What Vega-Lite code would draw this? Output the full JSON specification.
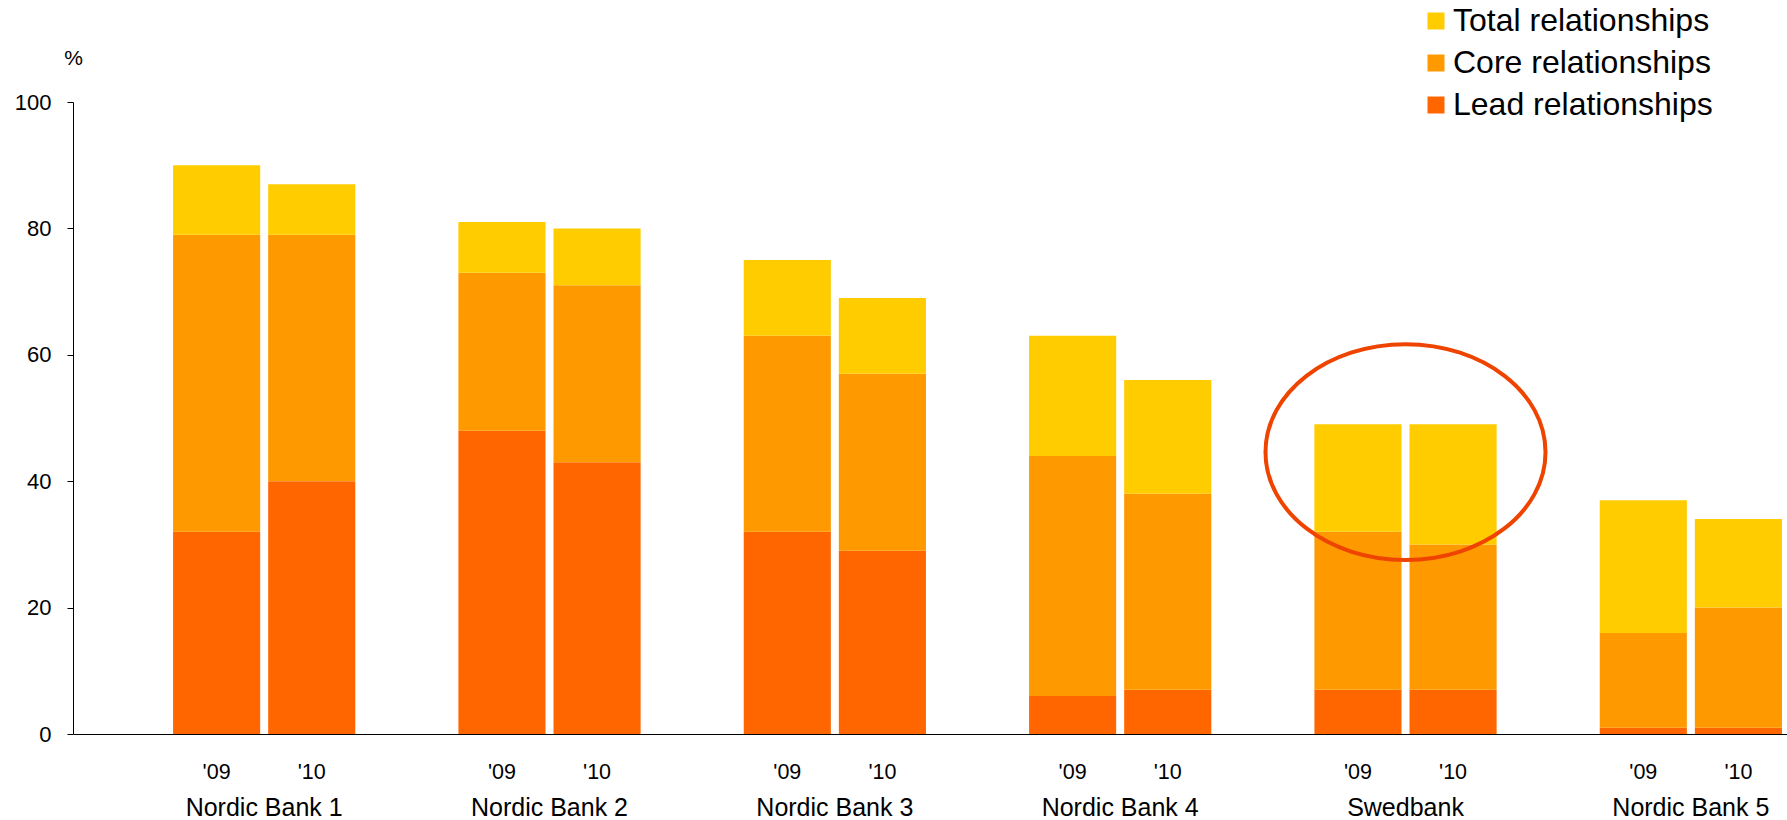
{
  "$schema": "https://vega.github.io/schema/vega-lite/v6.json",
  "width": 1714,
  "height": 632,
  "autosize": {"type": "none"},
  "padding": {"left": 73, "top": 102, "right": 0, "bottom": 86},
  "background": "#ffffff",
  "config": {
    "view": {"stroke": null},
    "font": "Liberation Sans",
    "axis": {"labelColor": "#000000", "titleColor": "#000000", "domainColor": "#000000", "tickColor": "#000000", "grid": false, "labelFont": "Liberation Sans", "titleFont": "Liberation Sans"},
    "legend": {"labelFont": "Liberation Sans", "labelColor": "#000000"}
  },
  "datasets": {
    "bars": [
      {"bank": "Nordic Bank 1", "year": "'09", "series": "Lead relationships", "rank": 1, "value": 32},
      {"bank": "Nordic Bank 1", "year": "'09", "series": "Core relationships", "rank": 2, "value": 47},
      {"bank": "Nordic Bank 1", "year": "'09", "series": "Total relationships", "rank": 3, "value": 11},
      {"bank": "Nordic Bank 1", "year": "'10", "series": "Lead relationships", "rank": 1, "value": 40},
      {"bank": "Nordic Bank 1", "year": "'10", "series": "Core relationships", "rank": 2, "value": 39},
      {"bank": "Nordic Bank 1", "year": "'10", "series": "Total relationships", "rank": 3, "value": 8},
      {"bank": "Nordic Bank 2", "year": "'09", "series": "Lead relationships", "rank": 1, "value": 48},
      {"bank": "Nordic Bank 2", "year": "'09", "series": "Core relationships", "rank": 2, "value": 25},
      {"bank": "Nordic Bank 2", "year": "'09", "series": "Total relationships", "rank": 3, "value": 8},
      {"bank": "Nordic Bank 2", "year": "'10", "series": "Lead relationships", "rank": 1, "value": 43},
      {"bank": "Nordic Bank 2", "year": "'10", "series": "Core relationships", "rank": 2, "value": 28},
      {"bank": "Nordic Bank 2", "year": "'10", "series": "Total relationships", "rank": 3, "value": 9},
      {"bank": "Nordic Bank 3", "year": "'09", "series": "Lead relationships", "rank": 1, "value": 32},
      {"bank": "Nordic Bank 3", "year": "'09", "series": "Core relationships", "rank": 2, "value": 31},
      {"bank": "Nordic Bank 3", "year": "'09", "series": "Total relationships", "rank": 3, "value": 12},
      {"bank": "Nordic Bank 3", "year": "'10", "series": "Lead relationships", "rank": 1, "value": 29},
      {"bank": "Nordic Bank 3", "year": "'10", "series": "Core relationships", "rank": 2, "value": 28},
      {"bank": "Nordic Bank 3", "year": "'10", "series": "Total relationships", "rank": 3, "value": 12},
      {"bank": "Nordic Bank 4", "year": "'09", "series": "Lead relationships", "rank": 1, "value": 6},
      {"bank": "Nordic Bank 4", "year": "'09", "series": "Core relationships", "rank": 2, "value": 38},
      {"bank": "Nordic Bank 4", "year": "'09", "series": "Total relationships", "rank": 3, "value": 19},
      {"bank": "Nordic Bank 4", "year": "'10", "series": "Lead relationships", "rank": 1, "value": 7},
      {"bank": "Nordic Bank 4", "year": "'10", "series": "Core relationships", "rank": 2, "value": 31},
      {"bank": "Nordic Bank 4", "year": "'10", "series": "Total relationships", "rank": 3, "value": 18},
      {"bank": "Swedbank", "year": "'09", "series": "Lead relationships", "rank": 1, "value": 7},
      {"bank": "Swedbank", "year": "'09", "series": "Core relationships", "rank": 2, "value": 25},
      {"bank": "Swedbank", "year": "'09", "series": "Total relationships", "rank": 3, "value": 17},
      {"bank": "Swedbank", "year": "'10", "series": "Lead relationships", "rank": 1, "value": 7},
      {"bank": "Swedbank", "year": "'10", "series": "Core relationships", "rank": 2, "value": 23},
      {"bank": "Swedbank", "year": "'10", "series": "Total relationships", "rank": 3, "value": 19},
      {"bank": "Nordic Bank 5", "year": "'09", "series": "Lead relationships", "rank": 1, "value": 1},
      {"bank": "Nordic Bank 5", "year": "'09", "series": "Core relationships", "rank": 2, "value": 15},
      {"bank": "Nordic Bank 5", "year": "'09", "series": "Total relationships", "rank": 3, "value": 21},
      {"bank": "Nordic Bank 5", "year": "'10", "series": "Lead relationships", "rank": 1, "value": 1},
      {"bank": "Nordic Bank 5", "year": "'10", "series": "Core relationships", "rank": 2, "value": 19},
      {"bank": "Nordic Bank 5", "year": "'10", "series": "Total relationships", "rank": 3, "value": 14}
    ],
    "highlight": [
      {"bank": "Swedbank", "level": 44.6}
    ]
  },
  "layer": [
    {
      "data": {"name": "bars"},
      "mark": {"type": "bar"},
      "encoding": {
        "x": {
          "field": "bank", "type": "nominal",
          "sort": ["Nordic Bank 1", "Nordic Bank 2", "Nordic Bank 3", "Nordic Bank 4", "Swedbank", "Nordic Bank 5"],
          "scale": {"paddingInner": 0.3614, "paddingOuter": 0.1842, "align": 0.952},
          "axis": {"title": null, "ticks": false, "labelFontSize": 25, "labelPadding": 61, "labelAngle": 0, "domainWidth": 1}
        },
        "xOffset": {"field": "year", "type": "nominal", "scale": {"paddingInner": 0.084, "paddingOuter": 0}},
        "y": {
          "field": "value", "type": "quantitative", "stack": "zero",
          "scale": {"domain": [0, 100], "nice": false},
          "axis": {"title": "%", "values": [0, 20, 40, 60, 80, 100], "labelFontSize": 22, "tickSize": 6, "labelPadding": 16, "titleAngle": 0, "titleX": 0, "titleY": -44, "titleAlign": "center", "titleBaseline": "middle", "titleFontSize": 21, "titleFontWeight": "normal"}
        },
        "color": {
          "field": "series", "type": "nominal",
          "scale": {"domain": ["Total relationships", "Core relationships", "Lead relationships"], "range": ["#FFCC00", "#FF9900", "#FF6600"]},
          "legend": {"title": null, "orient": "none", "legendX": 1347, "legendY": -97, "symbolType": "square", "symbolSize": 289, "symbolStrokeWidth": 0, "labelFontSize": 32, "labelLimit": 0, "rowPadding": 10, "labelOffset": 1, "padding": 0}
        },
        "order": {"field": "rank", "type": "quantitative"}
      }
    },
    {
      "data": {"name": "bars"},
      "transform": [{"filter": "datum.series === 'Lead relationships'"}],
      "mark": {"type": "text", "dy": 39, "fontSize": 21.5, "baseline": "middle", "align": "center", "color": "#000000"},
      "encoding": {
        "x": {"field": "bank", "type": "nominal", "sort": ["Nordic Bank 1", "Nordic Bank 2", "Nordic Bank 3", "Nordic Bank 4", "Swedbank", "Nordic Bank 5"]},
        "xOffset": {"field": "year", "type": "nominal"},
        "y": {"datum": 0, "type": "quantitative"},
        "text": {"field": "year"}
      }
    },
    {
      "data": {"name": "highlight"},
      "mark": {"type": "point", "shape": "M -1 0 A 1 0.771 0 1 0 1 0 A 1 0.771 0 1 0 -1 0 Z", "size": 78400, "filled": false, "stroke": "#EE4400", "strokeWidth": 4, "opacity": 1},
      "encoding": {
        "x": {"field": "bank", "type": "nominal", "sort": ["Nordic Bank 1", "Nordic Bank 2", "Nordic Bank 3", "Nordic Bank 4", "Swedbank", "Nordic Bank 5"]},
        "y": {"field": "level", "type": "quantitative", "title": "%"}
      }
    }
  ]
}
